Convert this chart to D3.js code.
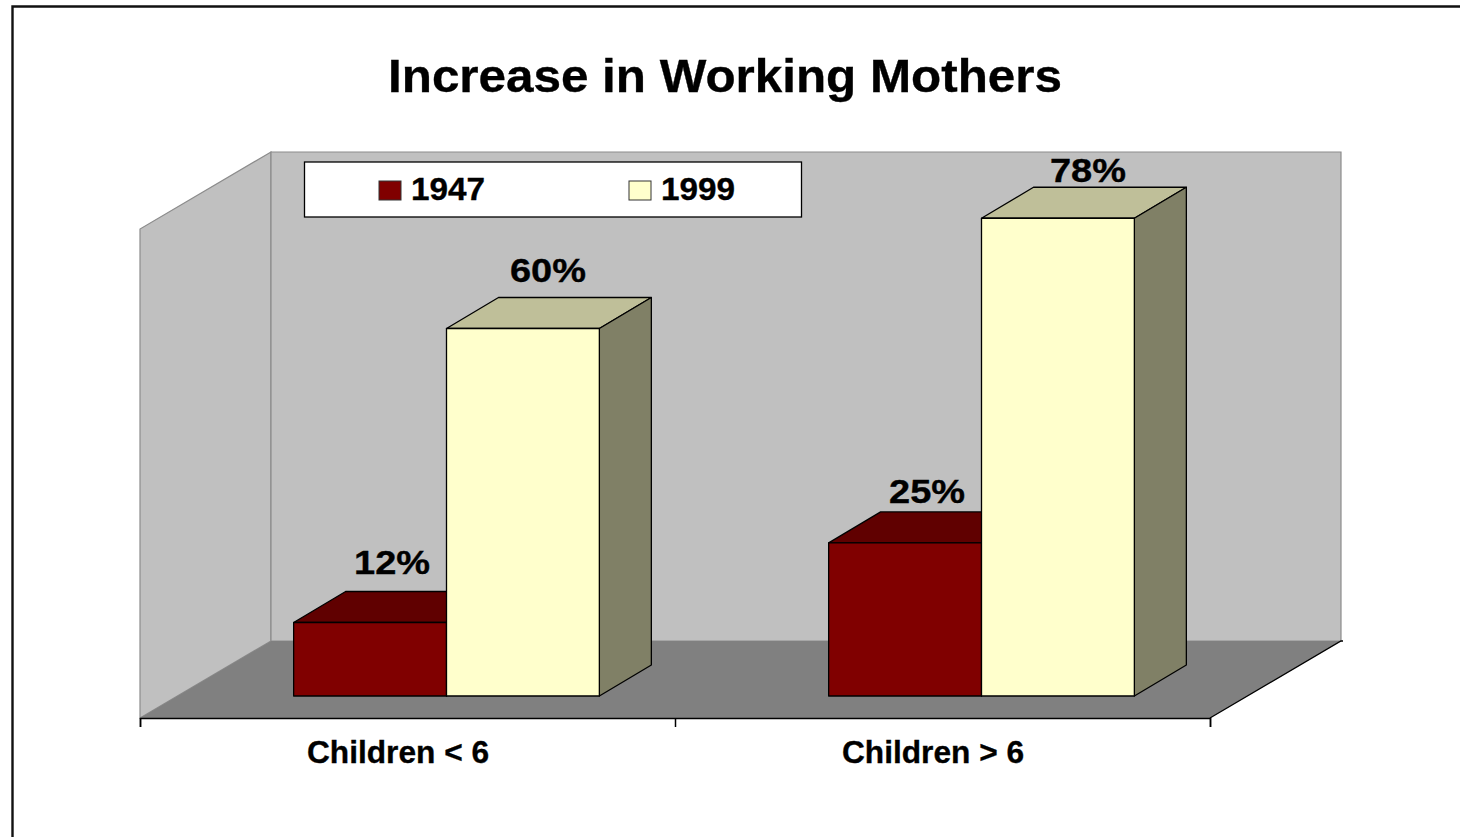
<!DOCTYPE html>
<html>
<head>
<meta charset="utf-8">
<style>
  html, body { margin: 0; padding: 0; background: #fff; overflow: hidden; }
  text { font-family: "Liberation Sans", Arial, sans-serif; font-weight: bold; fill: #000; stroke: #000; stroke-width: 0.35px; }
</style>
<script src="https://cdn.jsdelivr.net/npm/d3@7"></script>
</head>
<body>
<div id="chart"></div>
<script>
// Data
const categories = ["Children < 6", "Children > 6"];
const seriesNames = ["1947", "1999"];
const values1947 = [12, 25];
const values1999 = [60, 78];
const chartTitle = "Increase in Working Mothers";

// Page and plot box
const width = 1460;
const height = 837;
const floorFront = {left: 140, right: 1210, y: 718};
const wallDepth = {dx: 131, dy: -77};   // floor front edge -> back wall
const barDepth = {dx: 52, dy: -31};
const barInset = {dx: 38, dy: -22};     // floor front edge -> bar front
const wallTop = 152;

const colors = {
    "1947": {front: "#800000", top: "#600000", side: "#600000"},
    "1999": {front: "#ffffcc", top: "#bfbf99", side: "#808066"}
};

// The original text is wider than the font, stretch it to the measured width
const stretch = w => sel => sel.attr("textLength", w).attr("lengthAdjust", "spacingAndGlyphs");

const svg = d3.select("#chart")
    .append("svg")
    .attr("width", width)
    .attr("height", height)
    .style("display", "block");

// Slide frame
svg.append("path")
    .attr("d", `M12.5,${height}V6.5H${width}`)
    .attr("fill", "none")
    .attr("stroke", "#111")
    .attr("stroke-width", 2.4);

// Title
svg.append("text")
    .attr("x", 725)
    .attr("y", 91.5)
    .attr("text-anchor", "middle")
    .style("font-size", "47px")
    .call(stretch(674))
    .text(chartTitle);

// Scales
const x0 = d3.scaleBand()
    .domain(categories)
    .range([floorFront.left, floorFront.right]);

// 75% gap width: two bars share bandwidth / 1.75
const x1 = d3.scaleBand()
    .domain(seriesNames)
    .range([0, x0.bandwidth() / 1.75]);

const y = d3.scaleLinear()
    .domain([0, 80])
    .range([floorFront.y + barInset.dy, floorFront.y + barInset.dy - 490]);

const line = d3.line();

// Left wall, back wall, floor
const back = {
    left: floorFront.left + wallDepth.dx,
    right: floorFront.right + wallDepth.dx,
    y: floorFront.y + wallDepth.dy
};

svg.append("path")
    .attr("d", line([[floorFront.left, floorFront.y], [floorFront.left, wallTop - wallDepth.dy], [back.left, wallTop], [back.left, back.y]]) + "Z")
    .attr("fill", "#c0c0c0")
    .attr("stroke", "#8c8c8c")
    .attr("stroke-width", 1.2);

svg.append("path")
    .attr("d", line([[back.left, wallTop], [back.right, wallTop], [back.right, back.y], [back.left, back.y]]) + "Z")
    .attr("fill", "#c0c0c0")
    .attr("stroke", "#8c8c8c")
    .attr("stroke-width", 1.2);

svg.append("path")
    .attr("d", line([[floorFront.left, floorFront.y], [floorFront.right, floorFront.y], [back.right, back.y], [back.left, back.y]]) + "Z")
    .attr("fill", "#808080");

svg.append("path")
    .attr("d", line([[floorFront.right, floorFront.y], [back.right, back.y], [back.right + 2, back.y]]))
    .attr("fill", "none")
    .attr("stroke", "#000")
    .attr("stroke-width", 1.3);

// Axis: ticks on the band edges, labels in the band
const edges = d3.scaleLinear()
    .domain([0, categories.length])
    .range([floorFront.left, floorFront.right]);

svg.append("g")
    .attr("transform", `translate(0,${floorFront.y})`)
    .call(d3.axisBottom(edges).ticks(categories.length).tickSize(9).tickSizeOuter(9).tickFormat(""))
    .call(g => g.selectAll("path, line").attr("stroke", "#000").attr("stroke-width", 1.5));

svg.append("g")
    .attr("transform", `translate(-9.5,${floorFront.y})`)
    .call(d3.axisBottom(x0).tickSize(0).tickPadding(22.5))
    .call(g => g.select(".domain").remove())
    .call(g => g.selectAll("text")
        .style("font-family", '"Liberation Sans", Arial, sans-serif')
        .style("font-size", "31px")
        .call(stretch(182)));

// Bars
const barData = seriesNames.flatMap((name, s) => categories.map((cat, c) => ({
    series: name,
    category: cat,
    value: (s === 0 ? values1947 : values1999)[c]
})));

const barX = d => x0(d.category) + x1(d.series) + x0.bandwidth() * (1 - 1 / 1.75) / 2 + barInset.dx + 1;

const bars = svg.selectAll("g.bar")
    .data(barData)
    .enter()
    .append("g")
    .attr("class", "bar");

const faceStroke = sel => sel.attr("stroke", "#000").attr("stroke-width", 1.3).attr("stroke-linejoin", "round");

bars.append("path")
    .attr("d", d => {
        const xl = barX(d), xr = xl + x1.bandwidth(), yt = y(d.value);
        return line([[xl, yt], [xr, yt], [xr + barDepth.dx, yt + barDepth.dy], [xl + barDepth.dx, yt + barDepth.dy]]) + "Z";
    })
    .attr("fill", d => colors[d.series].top)
    .call(faceStroke);

bars.append("path")
    .attr("d", d => {
        const xr = barX(d) + x1.bandwidth(), yt = y(d.value), yb = y(0);
        return line([[xr, yt], [xr + barDepth.dx, yt + barDepth.dy], [xr + barDepth.dx, yb + barDepth.dy], [xr, yb]]) + "Z";
    })
    .attr("fill", d => colors[d.series].side)
    .call(faceStroke);

bars.append("rect")
    .attr("x", barX)
    .attr("y", d => y(d.value))
    .attr("width", x1.bandwidth())
    .attr("height", d => y(0) - y(d.value))
    .attr("fill", d => colors[d.series].front)
    .call(faceStroke);

// Value labels sit above the bar top, the tall one gets squeezed down
const labelNudge = {"12": [22, -49], "25": [22, -40], "60": [25, -47], "78": [30, -36]};

svg.selectAll("text.value")
    .data(barData)
    .enter()
    .append("text")
    .attr("class", "value")
    .attr("x", d => barX(d) + x1.bandwidth() / 2 + labelNudge[d.value][0])
    .attr("y", d => y(d.value) + labelNudge[d.value][1])
    .attr("text-anchor", "middle")
    .style("font-size", "33px")
    .call(stretch(76))
    .text(d => d.value + "%");

// Legend
const legend = svg.append("g");

legend.append("rect")
    .attr("x", 304.5)
    .attr("y", 162)
    .attr("width", 497)
    .attr("height", 55)
    .attr("fill", "#fff")
    .attr("stroke", "#000")
    .attr("stroke-width", 1.3);

const legendX = d3.scalePoint()
    .domain(seriesNames)
    .range([379, 629]);

const legendItems = legend.selectAll("g.item")
    .data(seriesNames)
    .enter()
    .append("g")
    .attr("class", "item")
    .attr("transform", d => `translate(${legendX(d)},181)`);

legendItems.append("rect")
    .attr("width", 22)
    .attr("height", 19)
    .attr("fill", d => colors[d].front)
    .attr("stroke", "#333")
    .attr("stroke-width", 1);

legendItems.append("text")
    .attr("x", 32)
    .attr("y", 18.5)
    .style("font-size", "31px")
    .call(stretch(74))
    .text(d => d);
</script>
</body>
</html>
